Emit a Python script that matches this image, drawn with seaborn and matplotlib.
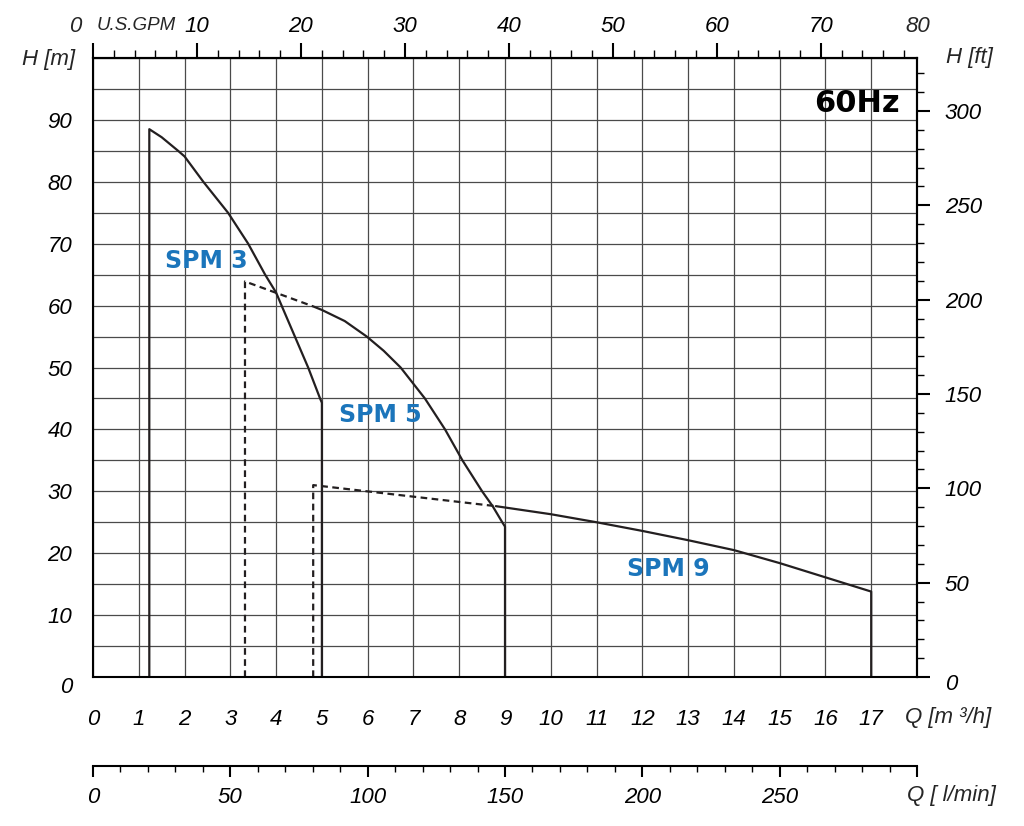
import numpy as np
import pandas as pd
import matplotlib
matplotlib.use("Agg")
import matplotlib.pyplot as plt
import matplotlib.transforms as mtrans
import seaborn as sns
from matplotlib.ticker import FixedLocator, MultipleLocator, FixedFormatter

sns.set_theme(style="white")
plt.rcParams['font.family'] = ['Liberation Sans', 'DejaVu Sans']
plt.rcParams['font.style'] = 'italic'

# ---------------- data (Q in m3/h, H in m) ----------------
spm3_q = [1.23, 1.23, 1.5, 1.86, 2.0, 2.41, 2.95, 3.39, 3.76, 4.0, 4.12, 4.41, 4.70, 4.96, 5.0, 5.0]
spm3_h = [0, 88.5, 87.2, 85.0, 84.1, 80.0, 75.0, 70.0, 65.0, 62.1, 60.0, 55.0, 50.0, 45.0, 44.3, 0]

spm5_dash_q = [3.32, 3.32, 4.8]
spm5_dash_h = [0, 63.9, 59.9]
spm5_q = [4.8, 5.0, 5.5, 5.98, 6.35, 6.72, 7.25, 7.69, 8.07, 8.5, 8.73, 8.94, 9.0, 9.0]
spm5_h = [59.9, 59.3, 57.5, 55.0, 52.7, 50.0, 45.0, 40.0, 35.0, 30.0, 27.6, 25.0, 24.3, 0]

spm9_dash_q = [4.81, 4.81, 8.8]
spm9_dash_h = [0, 31.0, 27.6]
spm9_q = [8.8, 10.0, 11.0, 12.0, 13.0, 14.0, 15.0, 16.0, 17.0, 17.0]
spm9_h = [27.6, 26.3, 25.0, 23.6, 22.1, 20.5, 18.4, 16.1, 13.8, 0]

pump_labels = ["SPM 3", "SPM 5", "SPM 9"]
pump_label_q = [2.47, 6.27, 12.57]
pump_label_h = [67.2, 42.4, 17.5]

q_ticks = list(range(0, 19))
q_ticklabels = [str(v) for v in range(0, 18)] + [""]
h_ticks = list(range(0, 91, 10))
gpm_ticks = list(range(0, 71, 10))
gpm_ticklabels = [""] + [str(v) for v in range(10, 71, 10)]
ft_ticks = list(range(0, 301, 50))
lpm_ticks = list(range(0, 301, 50))
lpm_ticklabels = [str(v) for v in range(0, 251, 50)] + [""]

LINE = "#231f20"
BLUE = "#1b75bb"
GRID = "#4a4a4a"
TS = 16

W, H = 1024, 826
fig = plt.figure(figsize=(W / 100, H / 100), dpi=100)
ax = fig.add_axes([93 / W, 1 - 677 / H, (917 - 93) / W, (677 - 58) / H])
ax.set_xlim(0, 18)
ax.set_ylim(0, 100)

# grid
ax.set_axisbelow(True)
ax.xaxis.set_major_locator(FixedLocator(q_ticks))
ax.xaxis.set_major_formatter(FixedFormatter(q_ticklabels))
ax.yaxis.set_major_locator(FixedLocator(h_ticks))
ax.yaxis.set_minor_locator(MultipleLocator(5))
ax.grid(True, which='major', axis='x', color=GRID, lw=0.9)
ax.grid(True, which='both', axis='y', color=GRID, lw=0.9)

# curves
def seg(q, h, dashed=False, lw=1.6):
    kw = dict(x=q, y=h, ax=ax, color=LINE, lw=lw, sort=False, estimator=None)
    if dashed:
        kw["linestyle"] = (0, (3.0, 2.0))
    sns.lineplot(**kw)

seg(spm3_q, spm3_h)
seg(spm5_dash_q, spm5_dash_h, dashed=True)
seg(spm5_q, spm5_h)
seg(spm9_dash_q, spm9_dash_h, dashed=True)
seg(spm9_q, spm9_h)
ax.set_xlabel("")
ax.set_ylabel("")

for s in ax.spines.values():
    s.set_color("black")
    s.set_linewidth(1.5)

ax.tick_params(axis='x', which='major', direction='out', length=10, width=1.5,
               pad=13, labelsize=TS, colors='black')
ax.tick_params(axis='y', which='major', direction='out', length=8, width=1.5,
               pad=7, labelsize=TS, colors='black')
ax.tick_params(axis='y', which='minor', length=0)
for lab in ax.get_xticklabels() + ax.get_yticklabels():
    lab.set_fontstyle('italic')

# top axis: US GPM
top = ax.secondary_xaxis('top', functions=(lambda q: q * 4.402868, lambda g: g / 4.402868))
top.xaxis.set_major_locator(FixedLocator(gpm_ticks))
top.xaxis.set_major_formatter(FixedFormatter(gpm_ticklabels))
top.xaxis.set_minor_locator(FixedLocator(list(range(0, 80, 2))))
top.tick_params(axis='x', which='major', direction='out', length=11, width=1.5,
                pad=4, labelsize=TS, colors='black')
top.tick_params(axis='x', which='minor', direction='out', length=6, width=1.0, colors='black')
top.spines['top'].set_linewidth(1.5)
top.spines['top'].set_color('black')

# right axis: H ft
right = ax.secondary_yaxis('right', functions=(lambda m: m * 3.28084, lambda f: f / 3.28084))
right.yaxis.set_major_locator(FixedLocator(ft_ticks))
right.yaxis.set_minor_locator(FixedLocator(list(range(0, 330, 10))))
right.tick_params(axis='y', which='major', direction='out', length=9, width=1.5,
                  pad=11, labelsize=TS, colors='black')
right.tick_params(axis='y', which='minor', direction='out', length=5, width=1.0, colors='black')
right.spines['right'].set_linewidth(1.5)
right.spines['right'].set_color('black')

# bottom secondary axis: l/min
loc = -(766 - 677) / (677 - 58)
bot = ax.secondary_xaxis(loc, functions=(lambda q: q * 1000 / 60, lambda l: l * 60 / 1000))
bot.xaxis.set_major_locator(FixedLocator(lpm_ticks))
bot.xaxis.set_major_formatter(FixedFormatter(lpm_ticklabels))
bot.xaxis.set_minor_locator(FixedLocator(list(range(0, 301, 10))))
bot.tick_params(axis='x', which='major', direction='out', length=8, width=1.5,
                pad=7, labelsize=TS, colors='black')
bot.tick_params(axis='x', which='minor', direction='out', length=4, width=1.0, colors='black')
bot.spines['bottom'].set_linewidth(1.5)
bot.spines['bottom'].set_color('black')

for a in (top, right, bot):
    for lab in a.xaxis.get_ticklabels() + a.yaxis.get_ticklabels():
        lab.set_fontstyle('italic')

# nudge the zero labels on the height axes slightly downward
for tk, dy in ((ax.yaxis.get_major_ticks()[0], -8), (right.yaxis.get_major_ticks()[0], -5)):
    for lab in (tk.label1, tk.label2):
        lab.set_transform(lab.get_transform() +
                          mtrans.ScaledTranslation(0, dy / 100, fig.dpi_scale_trans))

# pump labels
for t, q, h in zip(pump_labels, pump_label_q, pump_label_h):
    ax.text(q, h, t, color=BLUE, fontsize=17, fontweight='bold', fontstyle='normal',
            family='DejaVu Sans', ha='center', va='center')
ax.text(16.69, 92.6, "60Hz", color='black', fontsize=22, fontweight='bold',
        fontstyle='normal', family='DejaVu Sans', ha='center', va='center')

# axis captions
def ftext(px, py, s, ha='center', size=16):
    fig.text(px / W, 1 - py / H, s, ha=ha, va='center', fontsize=size, fontstyle='italic')

ftext(49, 59, "H [m]")
ftext(969, 57, "H [ft]")
ftext(905, 718, "Q [m ³/h]", ha='left')
ftext(907, 795, "Q [ l/min]", ha='left')
ftext(97, 26, "U.S.GPM", ha='left', size=13.5)
ftext(75, 26, "0", size=TS)
ftext(918, 26, "80", size=TS)

fig.savefig("out.png", dpi=100, facecolor='white')
